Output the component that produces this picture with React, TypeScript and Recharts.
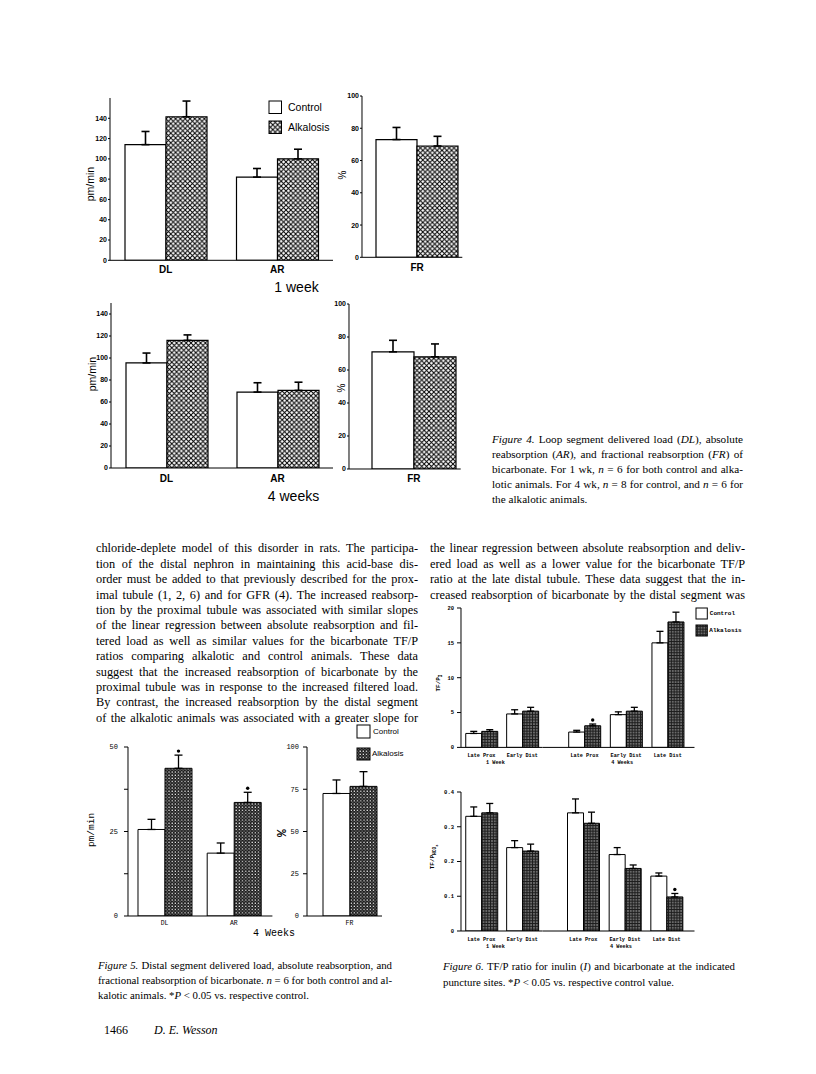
import React from "react";
import { BarChart, Bar, XAxis, YAxis, ErrorBar, LabelList } from "recharts";

// ---- Figure 4: loop segment (pm/min and %) ----
const loopSites = ["DL", "AR"];
const frSite = ["FR"];

const loopCtl1 = [114, 82];
const loopCtlSem1 = [13, 8.5];
const loopAlk1 = [141.5, 100];
const loopAlkSem1 = [15.5, 9.5];
const frCtl1 = [73];
const frCtlSem1 = [7.5];
const frAlk1 = [69];
const frAlkSem1 = [6];

const loopCtl4 = [95.5, 69];
const loopCtlSem4 = [9, 8.5];
const loopAlk4 = [116, 70.5];
const loopAlkSem4 = [5, 7.5];
const frCtl4 = [71];
const frCtlSem4 = [7];
const frAlk4 = [68];
const frAlkSem4 = [7.8];

// ---- Figure 5: distal segment, 4 weeks ----
const distCtl = [25.6, 18.6];
const distCtlSem = [3, 3];
const distAlk = [43.7, 33.6];
const distAlkSem = [3.9, 3];
const distSig = [true, true];
const distFrCtl = [72.5];
const distFrCtlSem = [8];
const distFrAlk = [76.7];
const distFrAlkSem = [8.7];

// ---- Figure 6: TF/P ratios ----
const sites1wk = ["Late Prox", "Early Dist"];
const sites4wk = ["Late Prox", "Early Dist", "Late Dist"];

const inCtl1 = [2.0, 4.8];
const inCtlSem1 = [0.3, 0.6];
const inAlk1 = [2.3, 5.2];
const inAlkSem1 = [0.25, 0.55];
const inCtl4 = [2.2, 4.7, 15.0];
const inCtlSem4 = [0.25, 0.4, 1.65];
const inAlk4 = [3.1, 5.2, 18.0];
const inAlkSem4 = [0.25, 0.55, 1.4];
const inSig4 = [true, false, false];

const hcoCtl1 = [0.33, 0.24];
const hcoCtlSem1 = [0.027, 0.02];
const hcoAlk1 = [0.34, 0.23];
const hcoAlkSem1 = [0.027, 0.02];
const hcoCtl4 = [0.34, 0.22, 0.158];
const hcoCtlSem4 = [0.04, 0.02, 0.009];
const hcoAlk4 = [0.31, 0.18, 0.098];
const hcoAlkSem4 = [0.032, 0.01, 0.01];
const hcoSig4 = [false, false, true];

const loopTicks = [0, 20, 40, 60, 80, 100, 120, 140];
const pctTicks = [0, 20, 40, 60, 80, 100];
const distTicks = [0, 12.5, 25, 37.5, 50];
const distPctTicks = [0, 25, 50, 75, 100];
const inTicks = [0, 5, 10, 15, 20];
const hcoTicks = [0, 0.1, 0.2, 0.3, 0.4];

type Row = { name: string; control: number; controlSem: number; alk: number; alkSem: number; sig: boolean };

const rows = (names: string[], c: number[], cs: number[], a: number[], as: number[], sig: boolean[] = []): Row[] =>
  names.map((name, i) => ({ name, control: c[i], controlSem: cs[i], alk: a[i], alkSem: as[i], sig: !!sig[i] }));

// ---- text ----
const leftCol = [
  "chloride-deplete model of this disorder in rats. The participa-",
  "tion of the distal nephron in maintaining this acid-base dis-",
  "order must be added to that previously described for the prox-",
  "imal tubule (1, 2, 6) and for GFR (4). The increased reabsorp-",
  "tion by the proximal tubule was associated with similar slopes",
  "of the linear regression between absolute reabsorption and fil-",
  "tered load as well as similar values for the bicarbonate TF/P",
  "ratios comparing alkalotic and control animals. These data",
  "suggest that the increased reabsorption of bicarbonate by the",
  "proximal tubule was in response to the increased filtered load.",
  "By contrast, the increased reabsorption by the distal segment",
  "of the alkalotic animals was associated with a greater slope for",
];
const rightCol = [
  "the linear regression between absolute reabsorption and deliv-",
  "ered load as well as a lower value for the bicarbonate TF/P",
  "ratio at the late distal tubule. These data suggest that the in-",
  "creased reabsorption of bicarbonate by the distal segment was",
];
const fig4Caption = [
  "_Figure 4._ Loop segment delivered load (_DL_), absolute",
  "reabsorption (_AR_), and fractional reabsorption (_FR_) of",
  "bicarbonate. For 1 wk, _n_ = 6 for both control and alka-",
  "lotic animals. For 4 wk, _n_ = 8 for control, and _n_ = 6 for",
  "the alkalotic animals.",
];
const fig5Caption = [
  "_Figure 5._ Distal segment delivered load, absolute reabsorption, and",
  "fractional reabsorption of bicarbonate. _n_ = 6 for both control and al-",
  "kalotic animals. *_P_ < 0.05 vs. respective control.",
];
const fig6Caption = [
  "_Figure 6._ TF/P ratio for inulin (_I_) and bicarbonate at the indicated",
  "puncture sites. *_P_ < 0.05 vs. respective control value.",
];

const SANS = "'Liberation Sans', Arial, sans-serif";
const MONO = "'Liberation Mono', 'DejaVu Sans Mono', monospace";
const SERIF = "'Liberation Serif', 'Times New Roman', serif";

type Font = { fontFamily: string; fontSize: number; fontWeight?: number | string };

const italics = (s: string) =>
  s.split("_").map((part, i) => (i % 2 ? <i key={i}>{part}</i> : <React.Fragment key={i}>{part}</React.Fragment>));

function TextBlock({ lines, x, y, w, size, lh, ws = -1, lastLeft }: { lines: string[]; x: number; y: number; w: number; size: number; lh: number; ws?: number; lastLeft?: boolean }) {
  return (
    <>
      {lines.map((l, i) => {
        const left = lastLeft && i === lines.length - 1;
        return (
          <div
            key={i}
            style={{
              position: "absolute",
              left: x,
              top: y + i * lh,
              width: w,
              fontFamily: SERIF,
              fontSize: size,
              lineHeight: `${lh}px`,
              wordSpacing: left ? 0 : ws,
              textAlign: left ? "left" : "justify",
              textAlignLast: left ? "left" : "justify",
              color: "#000",
            }}
          >
            {italics(l)}
          </div>
        );
      })}
    </>
  );
}

const VLabel = ({ cx, cy, font, children }: { cx: number; cy: number; font: Font; children: React.ReactNode }) => (
  <div style={{ position: "absolute", left: cx, top: cy, transform: "translate(-50%,-50%) rotate(-90deg)", whiteSpace: "nowrap", lineHeight: 1, ...font }}>
    {children}
  </div>
);

const CLabel = ({ cx, cy, font, children }: { cx: number; cy: number; font: Font; children: React.ReactNode }) => (
  <div style={{ position: "absolute", left: cx, top: cy, transform: "translate(-50%,-50%)", whiteSpace: "nowrap", lineHeight: 1, ...font }}>
    {children}
  </div>
);

const Swatch = ({ x, y, w, h, fill, label, font, gap }: { x: number; y: number; w: number; h: number; fill: string; label: string; font: Font; gap: number }) => (
  <>
    <svg style={{ position: "absolute", left: x - 1, top: y - 1 }} width={w + 2} height={h + 2}>
      <rect x={1} y={1} width={w} height={h} fill={fill} stroke="#000" strokeWidth={1} />
    </svg>
    <div style={{ position: "absolute", left: x + w + gap, top: y + h / 2, transform: "translateY(-50%)", whiteSpace: "nowrap", lineHeight: 1, ...font }}>
      {label}
    </div>
  </>
);

type Sub = { index: number; text: string; dx: number; dy: number };

const XTick = (props: any) => {
  const { x, y, payload, index, font, dy, sub } = props;
  const s = (sub as Sub[]).find((t) => t.index === index);
  return (
    <g>
      <text x={x} y={y + dy} textAnchor="middle" dominantBaseline="central" fill="#000" style={font}>
        {payload.value}
      </text>
      {s && (
        <text x={x + s.dx} y={y + s.dy} textAnchor="middle" dominantBaseline="central" fill="#000" style={font}>
          {s.text}
        </text>
      )}
    </g>
  );
};

const YW = 40;
const MT = 8;
const MR = 12;
const XH = 26;

type PanelProps = {
  x0: number;
  y0: number;
  x1: number;
  y1: number;
  data: Row[];
  domain: [number, number];
  ticks: number[];
  fmt?: (v: number) => string;
  padL?: number;
  padR?: number;
  gap: number;
  alkFill: string;
  yFont: Font;
  xFont: Font;
  xDy: number;
  hideY?: boolean;
  capW: number;
  tickSize: number;
  tickMargin: number;
  barStroke?: number;
  errStroke?: number;
  sub?: Sub[];
};

function Panel(p: PanelProps) {
  const yw = p.hideY ? 0 : YW;
  const width = p.x1 - p.x0 + yw + MR;
  const height = p.y1 - p.y0 + MT + XH;
  const sw = p.barStroke ?? 1;
  const ew = p.errStroke ?? 1.3;
  const star = (lp: any) => {
    const row = p.data[lp.index];
    if (!row || !row.sig) return null;
    const x = Number(lp.x);
    const y = Number(lp.y);
    const w = Number(lp.width);
    const h = Number(lp.height);
    const errPx = (row.alkSem / row.alk) * h;
    return <circle key={`s${lp.index}`} cx={x + w / 2} cy={y - errPx - 4} r={1.7} fill="#000" />;
  };
  return (
    <div style={{ position: "absolute", left: p.x0 - yw, top: p.y0 - MT }}>
      <BarChart width={width} height={height} data={p.data} margin={{ top: MT, right: MR, bottom: 0, left: 0 }} barCategoryGap={p.gap} barGap={0}>
        <XAxis
          dataKey="name"
          height={XH}
          interval={0}
          tickLine={false}
          tickSize={0}
          tickMargin={0}
          stroke="#000"
          axisLine={{ stroke: "#000", strokeWidth: 1 }}
          padding={{ left: p.padL ?? 0, right: p.padR ?? 0 }}
          tick={(tp: any) => <XTick {...tp} font={p.xFont} dy={p.xDy} sub={p.sub ?? []} />}
        />
        <YAxis
          hide={p.hideY}
          width={YW}
          type="number"
          domain={p.domain}
          ticks={p.ticks}
          allowDataOverflow
          interval={0}
          tickFormatter={p.fmt}
          stroke="#000"
          tick={{ fill: "#000", ...p.yFont }}
          tickSize={p.tickSize}
          tickMargin={p.tickMargin}
          tickLine={{ stroke: "#000" }}
          axisLine={{ stroke: "#000", strokeWidth: 1 }}
        />
        <Bar dataKey="control" fill="#fff" stroke="#000" strokeWidth={sw} isAnimationActive={false}>
          <ErrorBar dataKey={(d: Row) => [0, d.controlSem]} width={p.capW} stroke="#000" strokeWidth={ew} direction="y" />
        </Bar>
        <Bar dataKey="alk" fill={`url(#${p.alkFill})`} stroke="#000" strokeWidth={sw} isAnimationActive={false}>
          <ErrorBar dataKey={(d: Row) => [0, d.alkSem]} width={p.capW} stroke="#000" strokeWidth={ew} direction="y" />
          <LabelList dataKey="alk" content={star} />
        </Bar>
      </BarChart>
    </div>
  );
}

const f4Tick: Font = { fontFamily: SANS, fontSize: 7, fontWeight: 700 };
const f4X: Font = { fontFamily: SANS, fontSize: 10, fontWeight: 700 };
const f5Tick: Font = { fontFamily: MONO, fontSize: 7 };
const f5X: Font = { fontFamily: MONO, fontSize: 6.5 };
const f6Tick: Font = { fontFamily: MONO, fontSize: 5.5, fontWeight: 700 };
const f6X: Font = { fontFamily: MONO, fontSize: 5.2, fontWeight: 700 };

const hcoFmt = (v: number) => (v === 0 ? "0" : v.toFixed(1));
const distFmt = (v: number) => (v % 25 === 0 ? String(v) : "");

export default function App() {
  const loop1 = rows(loopSites, loopCtl1, loopCtlSem1, loopAlk1, loopAlkSem1);
  const fr1 = rows(frSite, frCtl1, frCtlSem1, frAlk1, frAlkSem1);
  const loop4 = rows(loopSites, loopCtl4, loopCtlSem4, loopAlk4, loopAlkSem4);
  const fr4 = rows(frSite, frCtl4, frCtlSem4, frAlk4, frAlkSem4);
  const dist = rows(loopSites, distCtl, distCtlSem, distAlk, distAlkSem, distSig);
  const distFr = rows(frSite, distFrCtl, distFrCtlSem, distFrAlk, distFrAlkSem);
  const in1 = rows(sites1wk, inCtl1, inCtlSem1, inAlk1, inAlkSem1);
  const in4 = rows(sites4wk, inCtl4, inCtlSem4, inAlk4, inAlkSem4, inSig4);
  const hco1 = rows(sites1wk, hcoCtl1, hcoCtlSem1, hcoAlk1, hcoAlkSem1);
  const hco4 = rows(sites4wk, hcoCtl4, hcoCtlSem4, hcoAlk4, hcoAlkSem4, hcoSig4);

  const week1Sub: Sub[] = [{ index: 0, text: "1 Week", dx: 14, dy: 16 }];
  const week4Sub: Sub[] = [{ index: 1, text: "4 Weeks", dx: -4, dy: 16 }];

  return (
    <div style={{ position: "absolute", left: 0, top: 0, width: 816, height: 1074, background: "#fff", overflow: "hidden", fontFamily: SERIF, color: "#000" }}>
      <svg width={0} height={0} style={{ position: "absolute" }}>
        <defs>
          <pattern id="xhatch" width="4.8" height="4.8" patternUnits="userSpaceOnUse">
            <rect width="4.8" height="4.8" fill="#fff" />
            <path d="M0,0 L4.8,4.8 M4.8,0 L0,4.8" stroke="#000" strokeWidth="1" />
          </pattern>
          <pattern id="dots5" width="3.2" height="3.2" patternUnits="userSpaceOnUse">
            <rect width="3.2" height="3.2" fill="#1c1c1c" />
            <rect x="0.4" y="0.4" width="1.2" height="1.2" fill="#fff" />
            <rect x="2" y="2" width="0.9" height="0.9" fill="#bbb" />
          </pattern>
          <pattern id="dots6" width="2.8" height="2.8" patternUnits="userSpaceOnUse">
            <rect width="2.8" height="2.8" fill="#1c1c1c" />
            <rect x="0.4" y="0.4" width="1.1" height="1.1" fill="#fff" />
          </pattern>
        </defs>
      </svg>

      {/* Figure 4, 1 week */}
      <Panel x0={110} x1={333} y0={98} y1={260.3} data={loop1} domain={[0, 160]} ticks={loopTicks} gap={15} alkFill="xhatch"
        yFont={f4Tick} xFont={f4X} xDy={9} capW={4} tickSize={2} tickMargin={1} barStroke={1.2} errStroke={1.6} />
      <Panel x0={361.7} x1={462} y0={95.7} y1={257} data={fr1} domain={[0, 100]} ticks={pctTicks} padL={10} gap={4} alkFill="xhatch"
        yFont={f4Tick} xFont={f4X} xDy={10} capW={4} tickSize={2} tickMargin={1} barStroke={1.2} errStroke={1.6} />
      <VLabel cx={90} cy={184} font={{ fontFamily: SANS, fontSize: 10.5 }}>pm/min</VLabel>
      <VLabel cx={343.3} cy={175} font={{ fontFamily: SANS, fontSize: 10 }}>%</VLabel>
      <Swatch x={269} y={101} w={12.5} h={12.5} fill="#fff" label="Control" font={{ fontFamily: SANS, fontSize: 10.5 }} gap={6.5} />
      <Swatch x={269} y={121} w={12.5} h={12.5} fill="url(#xhatch)" label="Alkalosis" font={{ fontFamily: SANS, fontSize: 10.5 }} gap={6.5} />
      <CLabel cx={296.5} cy={287.3} font={{ fontFamily: SANS, fontSize: 14 }}>1 week</CLabel>

      {/* Figure 4, 4 weeks */}
      <Panel x0={111} x1={333} y0={302.7} y1={467.7} data={loop4} domain={[0, 150]} ticks={loopTicks} gap={15} alkFill="xhatch"
        yFont={f4Tick} xFont={f4X} xDy={10} capW={4} tickSize={2} tickMargin={1} barStroke={1.2} errStroke={1.6} />
      <Panel x0={349.3} x1={461} y0={304} y1={469} data={fr4} domain={[0, 100]} ticks={pctTicks} padL={18} gap={5} alkFill="xhatch"
        yFont={f4Tick} xFont={f4X} xDy={9.5} capW={4} tickSize={2} tickMargin={1} barStroke={1.2} errStroke={1.6} />
      <VLabel cx={91.7} cy={374} font={{ fontFamily: SANS, fontSize: 10.5 }}>pm/min</VLabel>
      <VLabel cx={341.7} cy={388} font={{ fontFamily: SANS, fontSize: 10 }}>%</VLabel>
      <CLabel cx={293.5} cy={496} font={{ fontFamily: SANS, fontSize: 14 }}>4 weeks</CLabel>

      <TextBlock lines={fig4Caption} x={492} y={431.5} w={251} size={11.2} lh={15} ws={-1.2} lastLeft />

      {/* body text */}
      <TextBlock lines={leftCol} x={96} y={541.3} w={322} size={12.3} lh={15.4} ws={-1.5} />
      <TextBlock lines={rightCol} x={430} y={541.3} w={315} size={12.3} lh={15.4} ws={-1.5} />

      {/* Figure 5 */}
      <Panel x0={128.3} x1={272.7} y0={746.7} y1={915.7} data={dist} domain={[0, 50]} ticks={distTicks} fmt={distFmt} padL={2} padR={4} gap={8} alkFill="dots5"
        yFont={f5Tick} xFont={f5X} xDy={7.6} capW={4} tickSize={4} tickMargin={6} />
      <Panel x0={306.7} x1={381.7} y0={746.7} y1={915.7} data={distFr} domain={[0, 100]} ticks={distPctTicks} padL={10} gap={6} alkFill="dots5"
        yFont={f5Tick} xFont={f5X} xDy={7.6} capW={4} tickSize={4} tickMargin={4} />
      <VLabel cx={91.7} cy={830} font={{ fontFamily: MONO, fontSize: 9.5 }}>pm/min</VLabel>
      <VLabel cx={281.7} cy={833} font={{ fontFamily: MONO, fontSize: 13, fontWeight: 700 }}>%</VLabel>
      <Swatch x={357} y={725} w={13} h={13} fill="#fff" label="Control" font={{ fontFamily: SANS, fontSize: 8 }} gap={3} />
      <Swatch x={357} y={748} w={13} h={12} fill="url(#dots5)" label="Alkalosis" font={{ fontFamily: SANS, fontSize: 8 }} gap={2} />
      <CLabel cx={274} cy={934} font={{ fontFamily: MONO, fontSize: 10 }}>4 Weeks</CLabel>
      <TextBlock lines={fig5Caption} x={98} y={957.5} w={294} size={10.8} lh={15} ws={-1.2} lastLeft />

      {/* Figure 6, inulin */}
      <Panel x0={460.7} x1={542.5} y0={608.3} y1={747.7} data={in1} domain={[0, 20]} ticks={inTicks} gap={4.75} alkFill="dots6"
        yFont={f6Tick} xFont={f6X} xDy={9} capW={3.5} tickSize={4} tickMargin={3} sub={week1Sub} />
      <Panel x0={542.5} x1={694} y0={608.3} y1={747.7} data={in4} domain={[0, 20]} ticks={inTicks} hideY padL={20.7} padR={5.9} gap={5} alkFill="dots6"
        yFont={f6Tick} xFont={f6X} xDy={9} capW={3.5} tickSize={4} tickMargin={3} sub={week4Sub} />
      <VLabel cx={440} cy={683} font={{ fontFamily: MONO, fontSize: 6, fontWeight: 700 }}>
        TF/P<sub style={{ fontSize: 4.5 }}>I</sub>
      </VLabel>
      <Swatch x={696} y={608.3} w={11.3} h={11} fill="#fff" label="Control" font={{ fontFamily: MONO, fontSize: 6, fontWeight: 700 }} gap={2.5} />
      <Swatch x={696} y={625} w={11.3} h={11} fill="url(#dots6)" label="Alkalosis" font={{ fontFamily: MONO, fontSize: 6, fontWeight: 700 }} gap={2} />

      {/* Figure 6, bicarbonate */}
      <Panel x0={460.7} x1={542.5} y0={791.7} y1={930.7} data={hco1} domain={[0, 0.4]} ticks={hcoTicks} fmt={hcoFmt} gap={4.75} alkFill="dots6"
        yFont={f6Tick} xFont={f6X} xDy={9} capW={3.5} tickSize={4} tickMargin={3} sub={week1Sub} />
      <Panel x0={542.5} x1={694} y0={791.7} y1={930.7} data={hco4} domain={[0, 0.4]} ticks={hcoTicks} hideY padL={19.5} padR={7} gap={5} alkFill="dots6"
        yFont={f6Tick} xFont={f6X} xDy={9} capW={3.5} tickSize={4} tickMargin={3} sub={week4Sub} />
      <VLabel cx={435} cy={857} font={{ fontFamily: MONO, fontSize: 6, fontWeight: 700 }}>
        TF/P<sub style={{ fontSize: 4.5 }}>HCO<sub style={{ fontSize: 3.5 }}>3</sub></sub>
      </VLabel>
      <TextBlock lines={fig6Caption} x={443} y={959} w={292} size={10.8} lh={15.5} ws={-1} lastLeft />

      {/* footer */}
      <div style={{ position: "absolute", left: 104, top: 1024, fontFamily: SERIF, fontSize: 12, lineHeight: 1, whiteSpace: "nowrap" }}>
        1466<span style={{ display: "inline-block", width: 26 }} />
        <i>D. E. Wesson</i>
      </div>
    </div>
  );
}
